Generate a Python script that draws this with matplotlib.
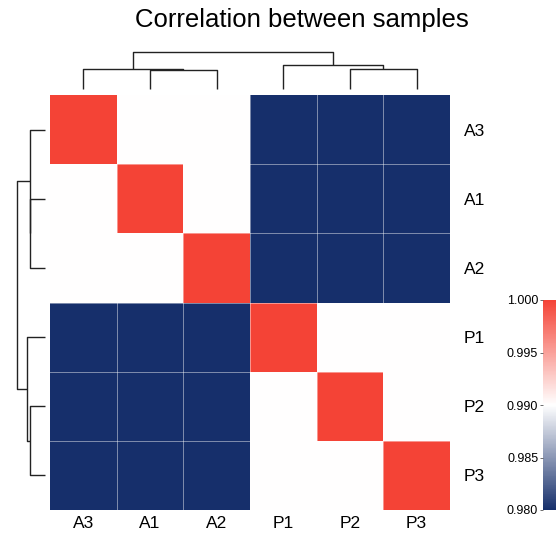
import numpy as np
import matplotlib
matplotlib.use('Agg')
import matplotlib.pyplot as plt
from matplotlib.colors import LinearSegmentedColormap

plt.rcParams['font.family'] = ['Liberation Sans', 'DejaVu Sans']

# sample order after clustering
samples = ['A3', 'A1', 'A2', 'P1', 'P2', 'P3']

# correlation values (rows/cols in sample order)
corr = [
    [1.000, 0.990, 0.990, 0.979, 0.979, 0.979],
    [0.990, 1.000, 0.990, 0.979, 0.979, 0.979],
    [0.990, 0.990, 1.000, 0.979, 0.979, 0.979],
    [0.979, 0.979, 0.979, 1.000, 0.990, 0.990],
    [0.979, 0.979, 0.979, 0.990, 1.000, 0.990],
    [0.979, 0.979, 0.979, 0.990, 0.990, 1.000],
]

# dendrogram merges: (left child, right child, height); leaves are 0..5, new nodes 6..
merges = [
    (1, 2, 0.52),
    (0, 6, 0.54),
    (4, 5, 0.54),
    (3, 8, 0.65),
    (7, 9, 1.00),
]

cbar_ticks = [0.980, 0.985, 0.990, 0.995, 1.000]

cmap = LinearSegmentedColormap.from_list('rwb', ['#162f6b', '#ffffff', '#f44336'])

fig = plt.figure(figsize=(5.56, 5.36), dpi=100)
W, H = 556, 536

def fax(x0, y0, x1, y1):
    return fig.add_axes([x0 / W, 1 - y1 / H, (x1 - x0) / W, (y1 - y0) / H])

# heatmap
ax = fax(50, 95, 450, 510)
data = np.array(corr)
mesh = ax.pcolormesh(data, cmap=cmap, vmin=0.98, vmax=1.0)
# thin light lines between cells
for k in range(1, 6):
    ax.axhline(k, color='white', alpha=0.45, lw=0.7)
    ax.axvline(k, color='white', alpha=0.45, lw=0.7)
ax.set_xlim(0, 6)
ax.set_ylim(6, 0)
ax.set_xticks(np.arange(6) + 0.5)
ax.set_xticklabels(samples, fontsize=12.5)
ax.set_yticks(np.arange(6) + 0.5)
ax.set_yticklabels(samples, fontsize=12.5)
ax.yaxis.tick_right()
ax.tick_params(length=0, pad=4)
ax.tick_params(axis='y', pad=10)
for s in ax.spines.values():
    s.set_visible(False)


def tree_lines(merges, n):
    pos = {i: i + 0.5 for i in range(n)}
    hgt = {i: 0.0 for i in range(n)}
    segs = []
    for k, (a, b, h) in enumerate(merges):
        segs.append(([pos[a], pos[a], pos[b], pos[b]], [hgt[a], h, h, hgt[b]]))
        pos[n + k] = (pos[a] + pos[b]) / 2
        hgt[n + k] = h
    return segs

segs = tree_lines(merges, len(samples))

# column dendrogram
axc = fax(50, 52, 450, 89)
for xs, hs in segs:
    axc.plot(xs, hs, color='#222222', lw=1, clip_on=False, solid_capstyle='butt')
axc.set_xlim(0, 6)
axc.set_ylim(0, 1)
axc.axis('off')

# row dendrogram
axr = fax(17, 95, 45, 510)
for xs, hs in segs:
    axr.plot(hs, xs, color='#222222', lw=1, clip_on=False, solid_capstyle='butt')
axr.set_xlim(1, 0)
axr.set_ylim(6, 0)
axr.axis('off')

# colorbar
cax = fax(543, 300, 562, 510)
cb = fig.colorbar(mesh, cax=cax, ticks=cbar_ticks)
cb.outline.set_visible(False)
cax.yaxis.set_ticks_position('left')
cax.set_yticklabels(['%.3f' % t for t in cbar_ticks])
cax.tick_params(labelsize=9, length=2, width=0.6, color='#555555', pad=1.5)

fig.text(302 / W, 1 - 20 / H, 'Correlation between samples', fontsize=18.5,
         ha='center', va='center')

fig.savefig('out.png', dpi=100)
